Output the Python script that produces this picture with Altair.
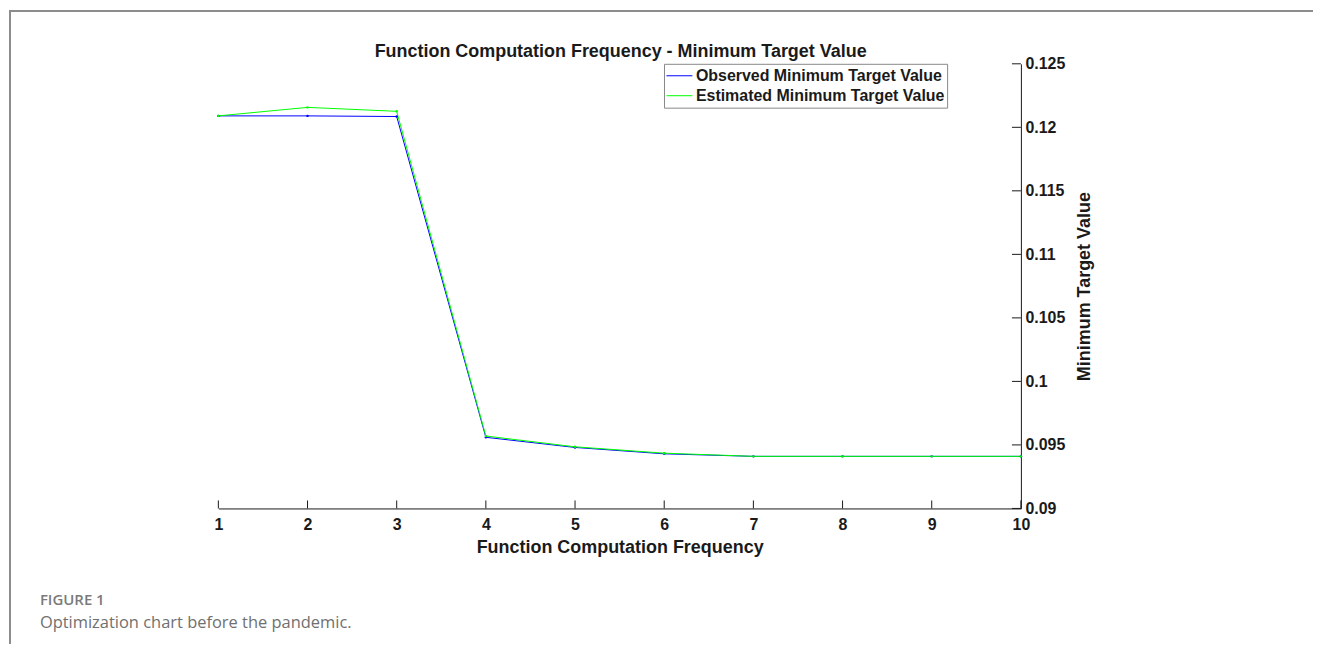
import altair as alt
import pandas as pd

# ---- data ----
freq = [1, 2, 3, 4, 5, 6, 7, 8, 9, 10]
observed = [0.1209, 0.1209, 0.12085, 0.0956, 0.0948, 0.0943, 0.0941, 0.0941, 0.0941, 0.0941]
estimated = [0.1209, 0.12157, 0.12126, 0.0957, 0.09485, 0.09435, 0.0941, 0.0941, 0.0941, 0.0941]
series_names = ["Observed Minimum Target Value", "Estimated Minimum Target Value"]
series_colors = ["#0000ff", "#00ff00"]
y_ticks = [0.09, 0.095, 0.1, 0.105, 0.11, 0.115, 0.12, 0.125]
x_ticks = freq
title_text = "Function Computation Frequency - Minimum Target Value"
x_title = "Function Computation Frequency"
y_title = "Minimum Target Value"
caption_1 = "FIGURE 1"
caption_2 = "Optimization chart before the pandemic."

rows = []
for name, vals in zip(series_names, [observed, estimated]):
    for f, v in zip(freq, vals):
        rows.append({"freq": f, "value": v, "series": name, "order": series_names.index(name)})
df = pd.DataFrame(rows)

W, H = 805, 446
FONT = "Liberation Sans"
INK = "#1a1a1a"

xscale = alt.Scale(domain=[1, 10], nice=False)
yscale = alt.Scale(domain=[0.09, 0.125], nice=False, zero=False)

lines = alt.Chart(df).mark_line(
    strokeWidth=1,
    point=alt.OverlayMarkDef(size=6, filled=True),
).encode(
    x=alt.X("freq:Q", scale=xscale,
            axis=alt.Axis(values=x_ticks, format="d", tickSize=0, labelPadding=8,
                          labelFlush=False,
                          labelFontSize=16, labelFontWeight="bold", labelFont=FONT,
                          labelColor=INK, domainColor=INK, domainWidth=1, grid=False,
                          title=x_title, titleFont=FONT, titleFontSize=18,
                          titleFontWeight="bold", titleColor=INK, titlePadding=6)),
    y=alt.Y("value:Q", scale=yscale,
            axis=alt.Axis(orient="right", values=y_ticks, format="~g", tickSize=0,
                          labelPadding=4, labelFlush=False, labelFontSize=16,
                          labelFontWeight="bold",
                          labelFont=FONT, labelColor=INK, domainColor=INK, domainWidth=1,
                          grid=False, title=y_title, titleFont=FONT, titleFontSize=18,
                          titleFontWeight="bold", titleColor=INK, titleAngle=270,
                          titlePadding=29)),
    color=alt.Color("series:N", sort=series_names,
                    scale=alt.Scale(domain=series_names, range=series_colors),
                    legend=alt.Legend(orient="none", legendX=447, legendY=0, title=None,
                                      symbolType="stroke", symbolSize=676,
                                      symbolStrokeWidth=1, labelFont=FONT,
                                      labelFontSize=16, labelFontWeight="bold",
                                      labelColor=INK, labelOffset=3, labelLimit=400,
                                      rowPadding=0, clipHeight=20, padding=2,
                                      strokeColor="#888888",
                                      fillColor="white", cornerRadius=0)),
    order="order:Q",
    detail="series:N",
)

tick_x = alt.Chart(pd.DataFrame({"freq": x_ticks})).mark_rule(color=INK, strokeWidth=1).encode(
    x=alt.X("freq:Q", scale=xscale), y=alt.value(H), y2=alt.value(H - 8))
tick_y = alt.Chart(pd.DataFrame({"value": y_ticks})).mark_rule(color=INK, strokeWidth=1).encode(
    y=alt.Y("value:Q", scale=yscale), x=alt.value(W), x2=alt.value(W - 9))

title_mark = alt.Chart(pd.DataFrame({"t": [title_text]})).mark_text(
    align="center", baseline="alphabetic", font=FONT, fontSize=18, fontWeight="bold",
    color=INK).encode(x=alt.value(W / 2 + 1), y=alt.value(-7), text="t:N")

cap1 = alt.Chart(pd.DataFrame({"t": [caption_1]})).mark_text(
    align="left", baseline="alphabetic", font="Open Sans", fontSize=15, fontWeight=600,
    color="#7a7a7a").encode(x=alt.value(-179), y=alt.value(543), text="t:N")
cap2 = alt.Chart(pd.DataFrame({"t": [caption_2]})).mark_text(
    align="left", baseline="alphabetic", font="Open Sans", fontSize=16.5, fontWeight=400,
    color="#707070").encode(x=alt.value(-179), y=alt.value(566), text="t:N")

frame_top = alt.Chart(pd.DataFrame({"a": [0]})).mark_rule(color="#8c8c8c", strokeWidth=2).encode(
    x=alt.value(-209), x2=alt.value(1098), y=alt.value(-53))
frame_left = alt.Chart(pd.DataFrame({"a": [0]})).mark_rule(color="#8c8c8c", strokeWidth=2).encode(
    x=alt.value(-209), y=alt.value(-54), y2=alt.value(600))

chart = alt.layer(frame_top, frame_left, tick_x, tick_y, lines, title_mark, cap1, cap2).properties(
    width=W, height=H,
    autosize=alt.AutoSizeParams(type="none"),
    padding={"left": 211, "top": 55, "right": 294, "bottom": 135},
).configure(background="white").configure_view(stroke=None)

chart.save("out.html", embed_options={"renderer": "svg", "actions": False})
